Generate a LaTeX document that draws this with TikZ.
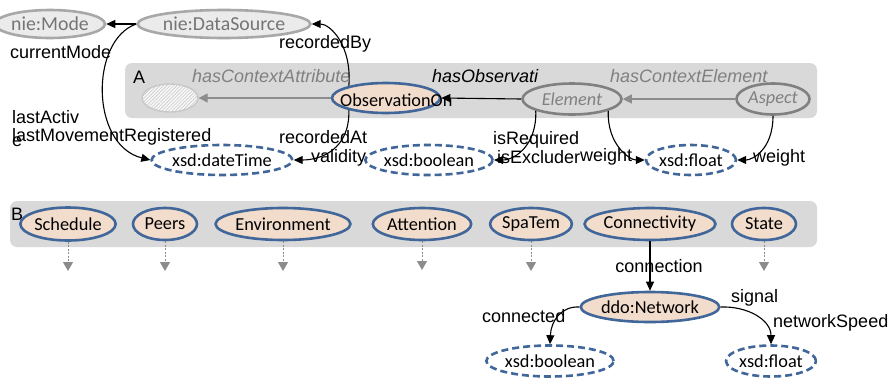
\documentclass[tikz,border=0pt]{standalone}
\usepackage{fontspec}
\setmainfont{Liberation Sans}
\newfontfamily\calibfont{Carlito}
\usetikzlibrary{arrows.meta,shapes.geometric,patterns.meta}

\definecolor{panelgrey}{HTML}{D9D9D9}
\definecolor{peach}{HTML}{F2DCCB}
\definecolor{navy}{HTML}{41669A}
\definecolor{nieline}{HTML}{A8A8A8}
\definecolor{niefill}{HTML}{EBEBEB}
\definecolor{niefont}{HTML}{747474}
\definecolor{elemline}{HTML}{808080}
\definecolor{softgrey}{HTML}{8C8C8C}
\definecolor{hatchbg}{HTML}{F8F8F8}
\definecolor{hatchline}{HTML}{C8C8C8}

\newcommand\lblsize{\fontsize{18}{21}\selectfont}
\newcommand\ellsize{\fontsize{18.3}{21}\selectfont}
\newcommand\niesize{\fontsize{19.8}{22}\selectfont}

\tikzset{
  ell/.style={ellipse, inner sep=0pt, line width=2.6pt, font=\calibfont\ellsize},
  cls/.style={ell, draw=navy, fill=peach},
  lit/.style={ell, draw=navy, fill=white, dash pattern=on 7pt off 4pt},
  ext/.style={ell, draw=nieline, fill=niefill, text=niefont, font=\calibfont\niesize},
  abst/.style={ell, draw=elemline, fill=panelgrey, text=elemline, font=\calibfont\itshape\ellsize},
  lbl/.style={inner sep=0pt, anchor=west, font=\lblsize},
  ilbl/.style={lbl, font=\lblsize\itshape},
  panel/.style={fill=panelgrey, rounded corners=7pt},
  edge/.style={-{Triangle[length=9pt,width=8pt]}, line width=1.1pt},
  greyedge/.style={edge, draw=softgrey, -{Triangle[length=9pt,width=9pt]}},
  greydash/.style={draw=softgrey, line width=1pt, dash pattern=on 2pt off 1.5pt,
    -{Triangle[length=9pt,width=10pt,fill=softgrey]}},
}

\begin{document}
\begin{tikzpicture}[x=1pt, y=-1pt]
\useasboundingbox (0,0) rectangle (891,378);

% ---------- top: data source and mode ----------
\node[ext, minimum width=84pt, minimum height=28pt] (mode) at (50,24) {nie:Mode};
\node[ext, minimum width=134pt, minimum height=28pt] (ds) at (224,24) {nie:DataSource};
\draw[edge] (ds) -- (mode);
\node[lbl] (lcur) at (10,52) {currentMode};

% ---------- panel A ----------
\fill[panel] (125,63) rectangle (817,118);
\node[lbl] (pa) at (133,77) {A};
\node[ilbl, text=elemline] (lhca) at (192,76) {hasContextAttribute};
\node[ilbl] (lhob) at (432,76) {hasObservati};
\node[ilbl, text=elemline] (lhce) at (610,76) {hasContextElement};

\node[ellipse, minimum width=56pt, minimum height=28pt, draw=hatchline, line width=1.4pt,
      fill=hatchbg, postaction={pattern={Lines[angle=45,distance=2.4pt,line width=0.6pt]},
      pattern color=hatchline}] (attr) at (170,98) {};
\node[cls, minimum width=108pt, minimum height=30pt] (obs) at (386,98) {};
\node[inner sep=0pt, anchor=west, font=\calibfont\ellsize] (obstext) at (340,100) {ObservationOn};
\node[abst, minimum width=99pt, minimum height=31pt] (elem) at (572,99) {Element};
\node[abst, minimum width=73pt, minimum height=31pt] (asp) at (773,99) {Aspect};

\draw[greyedge] (obs) -- (attr);
\draw[edge] (elem.west) -- (obs.east);
\draw[greyedge] (asp) -- (elem);

% ---------- literals of panel A ----------
\node[lit, minimum width=118pt, minimum height=30pt] (dt) at (222,160) {xsd:dateTime};
\node[lit, minimum width=110pt, minimum height=30pt] (bo1) at (429,160) {xsd:boolean};
\node[lit, minimum width=78pt, minimum height=30pt] (fl1) at (691,160) {xsd:float};

\draw[edge] (ds.west) .. controls (90,40) and (90,145) .. (dt.west);
\draw[edge] (obs.162) .. controls (352,45) and (330,24) .. (ds.east);
\draw[edge] (obs.198) .. controls (350,150) and (320,160) .. (dt.east);
\draw[edge] (elem.198) .. controls (537,145) and (515,160) .. (bo1.east);
\draw[edge] (elem.342) .. controls (607,145) and (630,160) .. (fl1.west);
\draw[edge] (asp.south) .. controls (773,150) and (752,160) .. (fl1.east);

\node[lbl] (lrby) at (279,44) {recordedBy};
\node[lbl] (lact) at (12,117) {lastActiv};
\node[lbl] (lmov) at (12,137) {lastMovementRegistered};
\node[lbl] (lact2) at (12,142) {e};
\node[lbl] (lrat) at (279,137) {recordedAt};
\node[lbl] (lval) at (311,158) {validity};
\node[lbl] (lreq) at (493,140) {isRequired};
\node[lbl] (lexc) at (497,157) {isExcluder};
\node[lbl] (lw1) at (580,157) {weight};
\node[lbl] (lw2) at (753,158) {weight};

% ---------- panel B ----------
\fill[panel] (10,201) rectangle (817,247);
\node[lbl] (pb) at (11,214) {B};
\node[cls, minimum width=83pt, minimum height=33pt] (sch) at (68,224) {Schedule};
\node[cls, minimum width=64pt, minimum height=32pt] (peer) at (165,224) {Peers};
\node[cls, minimum width=126pt, minimum height=32pt] (env) at (283,224) {Environment};
\node[cls, minimum width=94pt, minimum height=32pt] (att) at (422,224) {Attention};
\node[cls, minimum width=73pt, minimum height=32pt] (spa) at (531,224) {SpaTem};
\node[cls, minimum width=115pt, minimum height=32pt] (conn) at (650,224) {Connectivity};
\node[cls, minimum width=64pt, minimum height=32pt] (stat) at (764,224) {State};

\coordinate (schT) at (68,271);
\coordinate (peerT) at (165,271);
\coordinate (envT) at (283,271);
\coordinate (attT) at (422,270);
\coordinate (spaT) at (531,271);
\coordinate (statT) at (764,271);
\draw[greydash] (sch) -- (schT);
\draw[greydash] (peer) -- (peerT);
\draw[greydash] (env) -- (envT);
\draw[greydash] (att) -- (attT);
\draw[greydash] (spa) -- (spaT);
\draw[greydash] (stat) -- (statT);

% ---------- network ----------
\node[cls, minimum width=115pt, minimum height=30pt] (net) at (650,307) {ddo:Network};
\node[lit, minimum width=105pt, minimum height=31pt] (bo2) at (550,361) {xsd:boolean};
\node[lit, minimum width=83pt, minimum height=31pt] (fl2) at (771,361) {xsd:float};

\draw[edge] (conn) -- (net);
\draw[edge] (net.west) .. controls (562,306) and (551,320) .. (bo2.north);
\draw[edge] (net.east) .. controls (748,306) and (771,320) .. (fl2.north);

\node[lbl, anchor=center] (lcon) at (659,266) {connection};
\node[lbl] (lsig) at (731,298) {signal};
\node[lbl] (lspd) at (773,323) {networkSpeed};
\node[lbl] (lctd) at (482,316) {connected};
\end{tikzpicture}
\end{document}
